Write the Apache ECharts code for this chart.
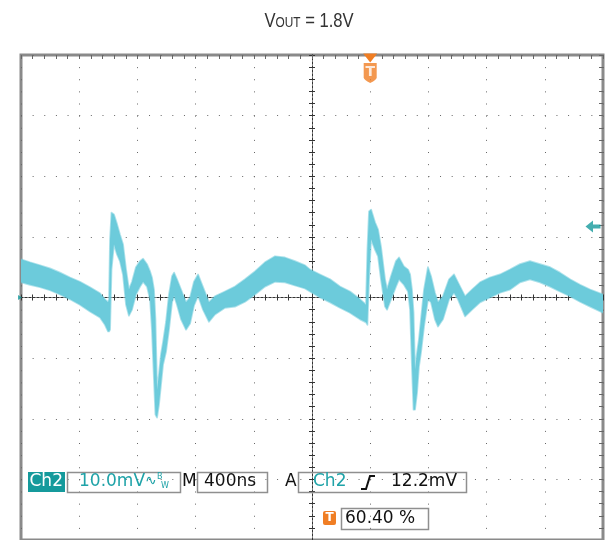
<!DOCTYPE html>
<html><head><meta charset="utf-8">
<script src="https://cdn.jsdelivr.net/npm/echarts@6/dist/echarts.min.js"></script>
<style>html,body{margin:0;padding:0;background:#fff}#chart{width:609px;height:540px}</style>
</head><body><div id="chart"></div>
<script>
// Screen: 10 div x 400 ns, 8 div x 10 mV; time measured from screen centre
const xRangeNs = [-2000, 2000];
const timePerDivNs = 400;
const yRangeMv = [-40, 40];
const voltsPerDivMv = 10;
const triggerTimeNs = 400;
const triggerLevelMv = 12.2;

// Trace envelope (persistence band)
const timeNs = [-2000,-1938,-1869,-1801,-1732,-1663,-1595,-1526,-1457,-1423,
  -1402,-1395,-1388,-1378,-1361,-1340,-1320,-1299,-1278,-1258,
  -1237,-1210,-1182,-1161,-1134,-1113,-1100,-1086,-1076,-1065,
  -1052,-1038,-1024,-1003,-983,-962,-948,-928,-900,-866,
  -838,-811,-783,-749,-708,-667,-598,-529,-460,-392,
  -323,-254,-186,-117,-48,-14,55,124,192,261,
  330,371,381,392,406,433,454,474,502,516,
  543,577,598,632,660,674,687,698,708,722,
  735,749,770,797,818,845,866,900,942,976,
  1003,1052,1100,1155,1223,1292,1361,1430,1498,1567,
  1636,1704,1773,1842,1911,2000];
const upperMv = [6.3,5.8,5.3,4.8,4.1,3.3,2.6,1.7,0.7,-0.3,
  -0.8,-0.3,9.6,14.0,13.7,12.1,10.4,8.8,4.6,1.3,
  2.6,5.0,6.0,6.4,5.5,4.3,3.3,1.3,-3.6,-15.2,
  -12.7,-9.4,-7.4,-4.0,0.5,3.5,4.1,3.0,1.3,-0.8,
  0,2.6,3.8,1.7,-0.8,0.2,1.0,1.8,3.0,4.3,
  5.8,6.8,6.6,6.0,5.3,4.6,3.8,3.0,1.8,1.0,
  -0.3,-1.2,7.9,14.2,14.5,12.4,11.2,8.4,3.0,1.3,
  3.5,6.0,6.6,5.1,4.6,3.8,1.3,-2.5,-11.9,-9.1,
  -6.9,-3.6,1.3,5.0,3.5,0.8,-0.8,0.2,3.0,3.8,
  2.5,0.2,1.3,2.5,3.3,3.8,4.6,5.5,6.0,5.5,
  5.0,4.1,3.0,2.1,1.3,0.5];
const lowerMv = [2.5,2.1,1.7,1.2,0.5,-0.3,-1.2,-2.3,-3.3,-4.5,
  -5.6,-5.6,-5.3,4.6,8.8,7.1,6.0,3.8,-1.2,-3.0,
  -2.0,0.5,1.8,2.6,1.8,-0.3,-5.3,-13.6,-19.3,-19.8,
  -17.7,-14.4,-11.1,-8.9,-5.3,-0.8,0.3,-1.2,-3.6,-5.3,
  -4.3,-1.3,0.3,-2.0,-4.0,-2.8,-1.7,-1.5,-0.7,0.5,
  1.8,2.6,2.5,2.0,1.5,1.0,0,-0.8,-1.7,-2.5,
  -3.6,-4.1,-4.5,3.0,9.6,7.9,6.8,3.0,-1.5,-2.0,
  -0.3,1.8,3.0,2.1,1.0,-2.0,-11.4,-18.5,-18.5,-15.7,
  -11.4,-9.1,-4.8,-0.3,-0.8,-3.6,-4.8,-3.6,-0.3,0.8,
  -0.3,-3.1,-2.0,-0.8,0,0.8,1.3,2.5,3.0,2.5,
  1.8,1.0,0.2,-0.7,-1.5,-2.5];

// Readout texts
const titleMain = 'V', titleSub = 'OUT', titleRest = ' = 1.8V';
const chLabel = 'Ch2', voltsDivText = '10.0mV', timeDivText = '400ns';
const trigSource = 'Ch2', trigLevelText = '12.2mV', trigPosText = '60.40 %';

const TEAL = '#159a9c', TEXT_TEAL = '#1fa3a8', TRACE = '#6ccbdb', ORANGE = '#f07e24', BOX = '#8f8f8f';
const GRID = {left: 21, right: 6, top: 55, bottom: 0};
const hDot = 582 / 50, vDot = 485 / 40;

const envelopeRows = timeNs.map((t, i) => [t, upperMv[i], lowerMv[i]]);

const tickStyle = {color: '#666', width: 1};
function xAx(extra) {
  return Object.assign({type: 'value', min: xRangeNs[0], max: xRangeNs[1], interval: timePerDivNs,
    axisLabel: {show: false}, splitLine: {show: false},
    axisLine: {show: false, onZero: false}, axisTick: {show: false}}, extra);
}
function yAx(extra) {
  return Object.assign({type: 'value', min: yRangeMv[0], max: yRangeMv[1], interval: voltsPerDivMv,
    axisLabel: {show: false}, splitLine: {show: false},
    axisLine: {show: false, onZero: false}, axisTick: {show: false}}, extra);
}
const edgeTicks = (len) => ({
  axisTick: {show: true, inside: true, length: len, lineStyle: tickStyle},
  minorTick: {show: true, splitNumber: 5, length: len, lineStyle: tickStyle}
});
const centreAxis = (inside, idx) => ({
  axisLine: {show: true, onZero: true, onZeroAxisIndex: idx, lineStyle: {color: '#333', width: 1, type: [2, 2]}},
  axisTick: {show: true, inside: inside, length: 3, lineStyle: {color: '#333', width: 1}},
  minorTick: {show: true, splitNumber: 5, length: 3, lineStyle: {color: '#333', width: 1}}
});

const txt = (x, y, s, color, size, extra) => Object.assign({
  type: 'text', x: x, y: y, z: 100,
  style: {text: s, fill: color, font: (size || 17) + 'px "DejaVu Sans"', textVerticalAlign: 'middle'}
}, extra || {});
const box = (x, y, w, h) => ({type: 'rect', z: 100, shape: {x: x, y: y, width: w, height: h},
  style: {fill: 'none', stroke: BOX, lineWidth: 1.5}});
const titleTxt = (x, s, size) => ({type: 'text', x: x, y: 27 + 0.212 * size,
  style: {text: s, fill: '#333', font: size + 'px "Liberation Sans"', textVerticalAlign: 'bottom'}});

function renderEnvelope(params, api) {
  if (params.dataIndex !== 0) return null;
  const top = envelopeRows.map(r => api.coord([r[0], r[1]]));
  const bot = envelopeRows.map(r => api.coord([r[0], r[2]])).reverse();
  return {type: 'polygon', shape: {points: top.concat(bot)},
    style: {fill: TRACE, stroke: 'rgba(108,203,219,0.55)', lineWidth: 1.8, lineJoin: 'round'}};
}

const option = {
  backgroundColor: '#fff',
  animation: false,
  grid: Object.assign({show: true, borderColor: '#8a8a8a', borderWidth: 3, backgroundColor: '#fff'}, GRID),
  xAxis: [
    xAx({position: 'bottom', splitLine: {show: true, lineStyle: {color: '#666', width: 1, type: [1, vDot - 1]}}}),
    xAx(Object.assign({position: 'top'}, edgeTicks(4))),
    xAx(Object.assign({position: 'bottom'}, centreAxis(true, 0))),
    xAx(Object.assign({position: 'bottom'}, centreAxis(false, 1)))
  ],
  yAxis: [
    yAx({position: 'left', splitLine: {show: true, lineStyle: {color: '#666', width: 1, type: [1, hDot - 1]}}}),
    yAx(Object.assign({position: 'right'}, edgeTicks(4))),
    yAx(Object.assign({position: 'left'}, centreAxis(true, 0))),
    yAx(Object.assign({position: 'left'}, centreAxis(false, 1)))
  ],
  series: [
    {type: 'custom', name: 'Ch2', data: envelopeRows, renderItem: renderEnvelope, clip: true, z: 3, silent: true,
      encode: {x: 0, y: [1, 2]}},
    {type: 'scatter', data: [[triggerTimeNs, yRangeMv[1]]], clip: false, z: 12, silent: true,
      symbol: 'path://M0,0L14,0L7,9Z', symbolSize: [14, 9], symbolOffset: [0, 3],
      itemStyle: {color: ORANGE, opacity: 1}},
    {type: 'scatter', data: [[triggerTimeNs, yRangeMv[1]]], clip: false, z: 10, silent: true,
      symbol: 'path://M0,0L14,0L14,15Q14,18 7,21Q0,18 0,15Z', symbolSize: [13, 20], symbolOffset: [0, 18],
      itemStyle: {color: ORANGE},
      label: {show: true, position: 'inside', formatter: 'T', color: '#fff', fontWeight: 'bold',
        fontSize: 14, fontFamily: 'DejaVu Sans', offset: [0, -1]}},
    {type: 'scatter', data: [[xRangeNs[1], triggerLevelMv]], clip: false, z: 10, silent: true,
      symbol: 'path://M0,6L7,0L7,4L14,4L14,8L7,8L7,12Z', symbolSize: [15, 12], symbolOffset: [-10, 3],
      itemStyle: {color: TEAL}},
    {type: 'scatter', data: [[xRangeNs[0], 0]], clip: false, z: 10, silent: true,
      symbol: 'triangle', symbolRotate: -90, symbolSize: [5, 4], symbolOffset: [-1, 0],
      itemStyle: {color: TEAL}}
  ],
  graphic: [
    {type: 'group', x: 264.5, y: 0, scaleX: 0.79, z: 100, children: [
      titleTxt(0, titleMain, 21),
      titleTxt(14, titleSub, 15),
      titleTxt(45.7, titleRest, 21)
    ]},
    {type: 'rect', z: 100, shape: {x: 28, y: 472, width: 37, height: 20}, style: {fill: TEAL}},
    txt(29.5, 482, chLabel, '#fff'),
    box(67.5, 472.5, 113, 20),
    txt(79, 482, voltsDivText, TEXT_TEAL),
    txt(145, 481, '\u223F', TEXT_TEAL, 14),
    txt(157, 477, 'B', TEXT_TEAL, 8),
    txt(161, 486, 'W', TEXT_TEAL, 8),
    txt(182, 482, 'M', '#111'),
    box(197.5, 472.5, 70, 20),
    txt(204, 482, timeDivText, '#111'),
    txt(285, 482, 'A', '#111'),
    box(298.5, 472.5, 168, 20),
    txt(313, 482, trigSource, TEXT_TEAL),
    {type: 'polyline', z: 100, shape: {points: [[361, 489], [366, 489], [370, 476], [375, 476]]},
      style: {stroke: '#111', lineWidth: 2, fill: 'none'}},
    txt(391, 482, trigLevelText, '#111'),
    {type: 'rect', z: 100, shape: {x: 323, y: 511, width: 13, height: 14, r: 2}, style: {fill: ORANGE}},
    {type: 'text', x: 329.5, y: 518, z: 101, style: {text: 'T', fill: '#fff', font: 'bold 12px "DejaVu Sans"', textAlign: 'center', textVerticalAlign: 'middle'}},
    box(341.5, 508.5, 87, 21),
    txt(345, 519, trigPosText, '#111')
  ]
};
const chart = echarts.init(document.getElementById('chart'), null, {renderer: 'canvas'});
chart.setOption(option);
</script></body></html>
